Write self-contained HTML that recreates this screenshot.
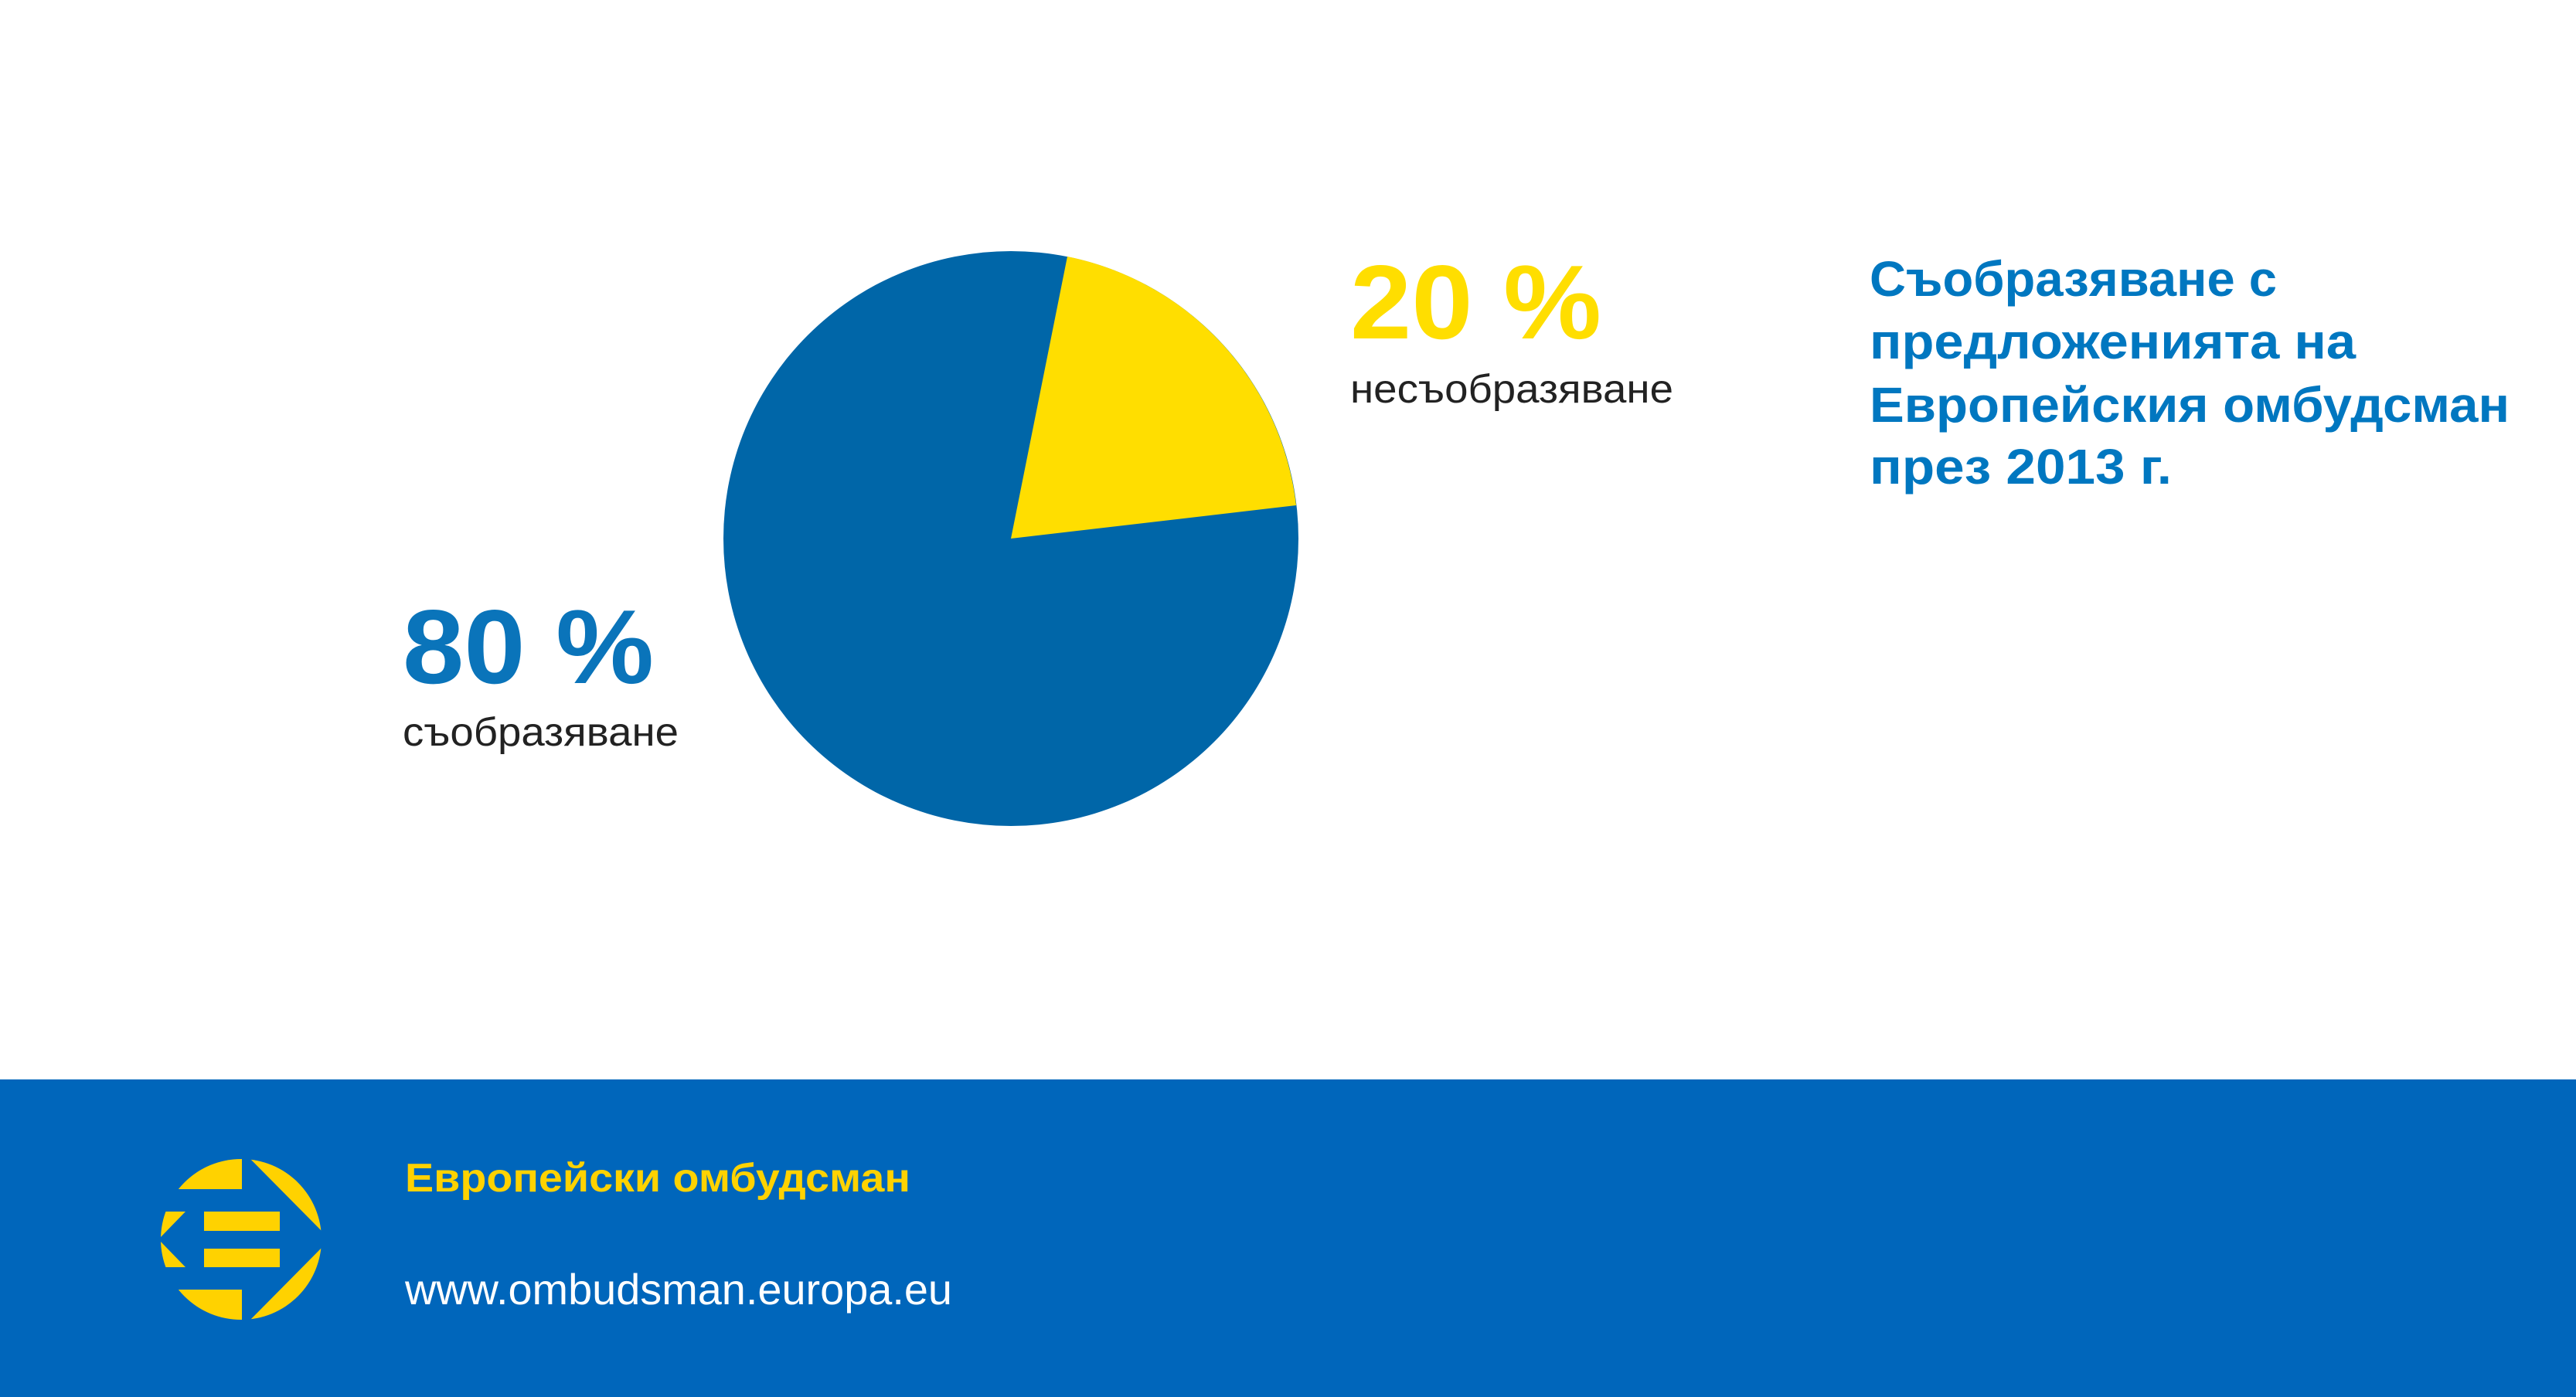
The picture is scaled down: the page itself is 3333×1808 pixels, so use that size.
<!DOCTYPE html>
<html><head><meta charset="utf-8"><style>html,body{margin:0;padding:0;background:#fff}svg{display:block}</style></head>
<body>
<svg width="3333" height="1808" viewBox="0 0 3333 1808" xmlns="http://www.w3.org/2000/svg" font-family="'Liberation Sans', 'DejaVu Sans', sans-serif">
<rect width="3333" height="1808" fill="#fff"/>
<circle cx="1308" cy="697" r="372" fill="#0066A8"/>
<path d="M1308,697 L1381,332 A372,372 0 0 1 1677,654 Z" fill="#FFDE00"/>
<text x="1747" y="438" font-size="136" font-weight="bold" fill="#FFDE00" textLength="325" lengthAdjust="spacingAndGlyphs">20 %</text>
<text x="1747" y="521" font-size="52" fill="#222" textLength="418" lengthAdjust="spacingAndGlyphs">несъобразяване</text>
<text x="521" y="884" font-size="136" font-weight="bold" fill="#0A74BA" textLength="325" lengthAdjust="spacingAndGlyphs">80 %</text>
<text x="521" y="965" font-size="52" fill="#222" textLength="357" lengthAdjust="spacingAndGlyphs">съобразяване</text>
<g font-size="64" font-weight="bold" fill="#0077C0">
<text x="2419" y="383" textLength="527" lengthAdjust="spacingAndGlyphs">Съобразяване с</text>
<text x="2419" y="464" textLength="629" lengthAdjust="spacingAndGlyphs">предложенията на</text>
<text x="2419" y="546" textLength="828" lengthAdjust="spacingAndGlyphs">Европейския омбудсман</text>
<text x="2419" y="626" textLength="391" lengthAdjust="spacingAndGlyphs">през 2013 г.</text>
</g>
<rect x="0" y="1397" width="3333" height="411" fill="#0066BB"/>
<defs><clipPath id="c"><circle cx="0" cy="0" r="104"/></clipPath></defs>
<g transform="translate(312,1604)" fill="#FFD200">
<g clip-path="url(#c)">
<rect x="-110" y="-110" width="111" height="45"/>
<rect x="-110" y="65" width="111" height="45"/>
<polygon points="12,-110 12,-104 104,-11 110,-11 110,-110"/>
<polygon points="12,110 12,104 104,11 110,11 110,110"/>
<polygon points="-120,-36 -72,-36 -104,-3 -120,-3"/>
<polygon points="-120,36 -72,36 -104,3 -120,3"/>
</g>
<rect x="-48" y="-36" width="98" height="25"/>
<rect x="-48" y="12" width="98" height="24"/>
</g>
<text x="524" y="1542" font-size="52" font-weight="bold" fill="#FFD200" textLength="654" lengthAdjust="spacingAndGlyphs">Европейски омбудсман</text>
<text x="524" y="1688" font-size="56" fill="#fff" textLength="708" lengthAdjust="spacingAndGlyphs">www.ombudsman.europa.eu</text>
</svg>
</body></html>
